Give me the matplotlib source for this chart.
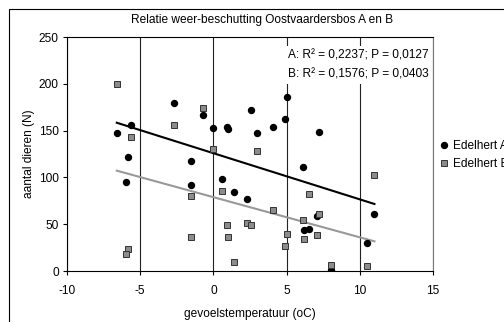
import matplotlib
matplotlib.use("Agg")
import matplotlib.pyplot as plt
from matplotlib.patches import Rectangle

plt.rcParams['font.family'] = ['Liberation Sans', 'DejaVu Sans']
plt.rcParams['axes.unicode_minus'] = False

# gevoelstemperatuur (oC) per waarneming, gedeeld door A en B
temp = [-6.6, -5.6, -5.8, -6.0, -2.7, -1.5, -1.5, -0.7, 0.0, 0.6, 0.9, 1.0, 1.4,
        2.3, 2.6, 3.0, 4.1, 4.9, 5.0, 6.1, 6.2, 6.5, 7.05, 7.2, 8.0, 10.5, 11.0]
edelhert_a = [147, 156, 122, 95, 179, 117, 92, 167, 153, 98, 154, 152, 84,
              77, 172, 147, 154, 162, 186, 111, 44, 45, 59, 148, 1, 30, 61]
edelhert_b = [200, 143, 23, 18, 156, 80, 36, 174, 130, 86, 49, 36, 10,
              51, 49, 128, 65, 27, 40, 55, 34, 82, 38, 61, 6, 5, 103]

trend_x = [-6.6, 11.0]
trend_a = [158.4, 71.6]
trend_b = [107.2, 31.7]

stats_txt = ["A: R² = 0,2237; P = 0,0127", "B: R² = 0,1576; P = 0,0403"]

fs = 8.6

fig = plt.figure(figsize=(5.04, 3.22), dpi=100)
ax = fig.add_axes([67/504, 1 - 271/322, 366/504, 234/322])

# buitenkader van de grafiek
fig.patches.append(Rectangle((9/504, -0.1), 1.2, 1 - 9/322 + 0.1, transform=fig.transFigure,
                             fill=False, edgecolor='black', linewidth=0.8))

ax.set_xlim(-10, 15)
ax.set_ylim(0, 250)
ax.set_xticks([-10, -5, 0, 5, 10, 15])
ax.set_yticks([0, 50, 100, 150, 200, 250])
ax.grid(axis='x', color='#222222', linewidth=0.8, zorder=0)
ax.tick_params(labelsize=fs, length=3, width=0.8, direction='out')
ax.tick_params(axis='x', pad=7)
ax.tick_params(axis='y', pad=3)
for s in ax.spines.values():
    s.set_linewidth(0.8)
ax.spines['right'].set_color('#777777')

ax.plot(temp, edelhert_a, 'o', color='black', markersize=4.3, label='Edelhert A', zorder=3)
ax.plot(temp, edelhert_b, 's', color='#8c8c8c', markeredgecolor='#333333',
        markeredgewidth=0.7, markersize=4.3, label='Edelhert B', zorder=3)
ax.plot(trend_x, trend_a, color='black', linewidth=1.5, zorder=2)
ax.plot(trend_x, trend_b, color='#999999', linewidth=1.5, zorder=2)

ax.text(14.7, 237, stats_txt[0] + "\n" + stats_txt[1], ha='right', va='top', fontsize=fs,
        linespacing=1.85, zorder=4,
        bbox=dict(facecolor='white', edgecolor='none', pad=2))

ax.set_xlabel('gevoelstemperatuur (oC)', fontsize=fs, labelpad=8)
ax.set_ylabel('aantal dieren (N)', fontsize=fs, labelpad=3)
fig.text(262/504, 1 - 20/322, 'Relatie weer-beschutting Oostvaardersbos A en B',
         ha='center', va='center', fontsize=fs)

h, l = ax.get_legend_handles_labels()
fig.legend(h, l, loc='center left', bbox_to_anchor=(439/504, 1 - 155/322), frameon=False,
           fontsize=fs, handlelength=0.5, handletextpad=0.5, labelspacing=0.55,
           borderaxespad=0, borderpad=0.2)

fig.savefig('out.png', dpi=100)
